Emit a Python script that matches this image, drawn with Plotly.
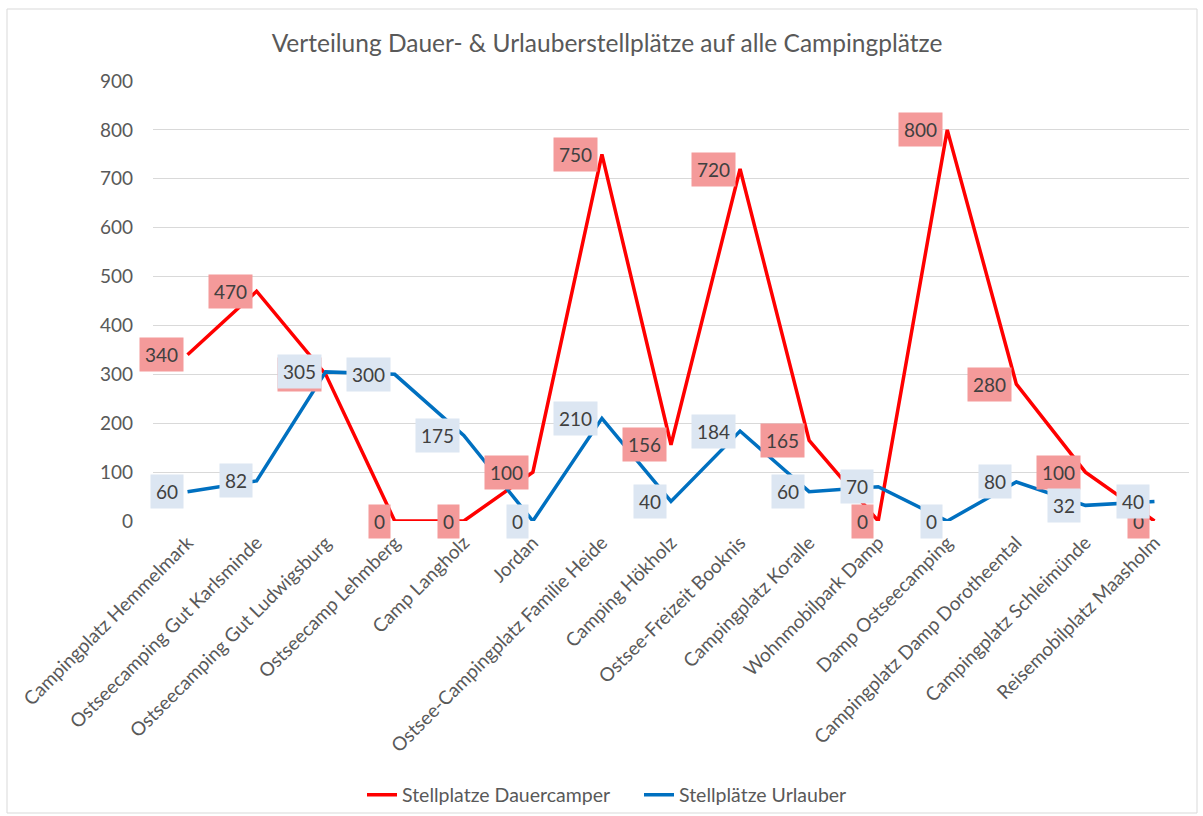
import plotly.graph_objects as go

categories = [
    "Campingplatz Hemmelmark",
    "Ostseecamping Gut Karlsminde",
    "Ostseecamping Gut Ludwigsburg",
    "Ostseecamp Lehmberg",
    "Camp Langholz",
    "Jordan",
    "Ostsee-Campingplatz Familie Heide",
    "Camping Hökholz",
    "Ostsee-Freizeit Booknis",
    "Campingplatz Koralle",
    "Wohnmobilpark Damp",
    "Damp Ostseecamping",
    "Campingplatz Damp Dorotheental",
    "Campingplatz Schleimünde",
    "Reisemobilplatz Maasholm",
]
dauercamper = [340, 470, 300, 0, 0, 100, 750, 156, 720, 165, 0, 800, 280, 100, 0]
urlauber = [60, 82, 305, 300, 175, 0, 210, 40, 184, 60, 70, 0, 80, 32, 40]
y_ticks = [0, 100, 200, 300, 400, 500, 600, 700, 800, 900]

FONT = "Lato"
RED = "#FF0000"
BLUE = "#0070C0"
TXT = "#595959"

fig = go.Figure()
fig.add_trace(go.Scatter(x=categories, y=dauercamper, mode="lines",
                         name="Stellplatze Dauercamper",
                         line=dict(color=RED, width=3.5)))
fig.add_trace(go.Scatter(x=categories, y=urlauber, mode="lines",
                         name="Stellplätze Urlauber",
                         line=dict(color=BLUE, width=3.5)))

annotations = []
for c, v in zip(categories, dauercamper):
    annotations.append(dict(x=c, y=v, xref="x", yref="y", text=str(v),
                            showarrow=False, xanchor="right", yanchor="middle",
                            xshift=-4, bgcolor="#F49A9A", borderpad=5,
                            font=dict(family=FONT, size=19, color="#404040")))
for c, v in zip(categories, urlauber):
    annotations.append(dict(x=c, y=v, xref="x", yref="y", text=str(v),
                            showarrow=False, xanchor="right", yanchor="middle",
                            xshift=-4, bgcolor="#DCE6F2", borderpad=5,
                            font=dict(family=FONT, size=19, color="#404040")))

W, H = 1203, 816
L, R, T, B = 153, 14, 81, 295
pw, ph = W - L - R, H - T - B

fig.update_layout(
    width=W, height=H, autosize=False,
    margin=dict(l=L, r=R, t=T, b=B, autoexpand=False),
    paper_bgcolor="white", plot_bgcolor="white",
    title=dict(text="Verteilung Dauer- & Urlauberstellplätze auf alle Campingplätze",
               x=607 / W, xanchor="center", y=1 - 43 / H, yanchor="middle",
               font=dict(family=FONT, size=24.5, color=TXT)),
    xaxis=dict(type="category", range=[-0.5, len(categories) - 0.5],
               tickangle=-45, showgrid=False, showline=False, ticks="",
               automargin=False, ticklabelstandoff=6,
               tickfont=dict(family=FONT, size=19, color=TXT)),
    yaxis=dict(range=[0, 900], tickvals=y_ticks, showgrid=True,
               gridcolor="#D9D9D9", gridwidth=1, zeroline=False, showline=False,
               ticks="", ticklabelstandoff=19, automargin=False,
               tickfont=dict(family=FONT, size=19, color=TXT)),
    legend=dict(orientation="h", x=(362 - L) / pw, xanchor="left",
                y=(T + ph - 795) / ph, yanchor="middle",
                bgcolor="rgba(0,0,0,0)",
                font=dict(family=FONT, size=19.5, color=TXT),
                itemwidth=30, tracegroupgap=0,
                entrywidth=232, entrywidthmode="pixels"),
    annotations=annotations,
    shapes=[dict(type="rect", xref="paper", yref="paper",
                 x0=(7 - L) / pw, x1=(1197 - L) / pw,
                 y0=(T + ph - 813) / ph, y1=(T + ph - 9) / ph,
                 line=dict(color="#D9D9D9", width=1), layer="below")],
    showlegend=True,
)

fig.write_html("out.html", config={"displayModeBar": False},
               post_script="document.body.style.margin='0px';")
